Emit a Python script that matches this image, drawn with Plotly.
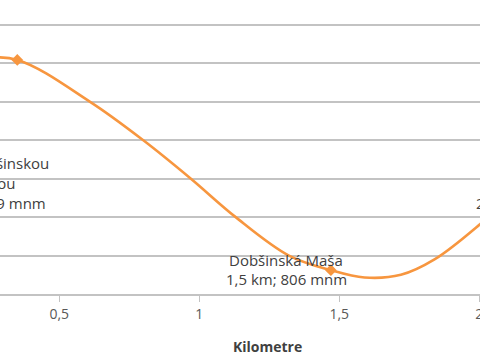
import plotly.graph_objects as go

# Elevation profile (km, metres above sea level)
line_km = [0.20, 0.35, 0.61, 0.80, 0.97, 1.13, 1.32, 1.47, 1.59, 1.72, 1.84, 2.00, 2.15]
line_elev = [861.3, 860.9, 850, 840, 830, 820, 810, 806.2, 804.3, 805, 809, 818, 828]

# Labelled landmarks
marker_km = [0.35, 1.47]
marker_elev = [860.9, 806.2]

x_ticks = [0.5, 1.0, 1.5, 2.0]
x_tick_text = ["0,5", "1", "1,5", "2"]
y_grid = [810, 820, 830, 840, 850, 860, 870]

ORANGE = "#F7963F"
GRID = "#c3c3c3"
TXT = "#404040"
FONT = "Open Sans"
FS = 15

W, H = 480, 360
PLOT_BOTTOM = 294  # px

def px_x(p):
    return p / W

def px_y(p):
    return (PLOT_BOTTOM - p) / PLOT_BOTTOM

fig = go.Figure()
fig.add_trace(go.Scatter(
    x=line_km, y=line_elev, mode="lines",
    line=dict(color=ORANGE, width=2.6, shape="spline", smoothing=1.0),
    hoverinfo="skip", showlegend=False,
))
fig.add_trace(go.Scatter(
    x=marker_km, y=marker_elev, mode="markers",
    marker=dict(symbol="diamond", size=9, color=ORANGE),
    hoverinfo="skip", showlegend=False,
))

annotations = []
# left label (cut off by the left edge)
left_lines = [("Sedlo pod Dobšinskou", 51, 163), ("a Stratenou", 17, 183), ("0,35 km; 859 mnm", 48, 203)]
for t, rx, cy in left_lines:
    annotations.append(dict(text=t, x=px_x(rx), y=px_y(cy), xref="paper", yref="paper",
                            xanchor="right", yanchor="middle", showarrow=False,
                            font=dict(family=FONT, size=FS, color=TXT)))
# Dobšinská Maša label
for t, cy in [("Dobšinská Maša", 260), ("1,5 km; 806 mnm", 279)]:
    annotations.append(dict(text=t, x=px_x(286), y=px_y(cy),
                            xref="paper", yref="paper", xanchor="center", yanchor="middle",
                            showarrow=False, font=dict(family=FONT, size=FS, color=TXT)))
# right label (cut off by the right edge)
annotations.append(dict(text="2,45 km; 846 mnm", x=px_x(474), y=px_y(203), xref="paper", yref="paper",
                        xanchor="left", yanchor="middle", showarrow=False,
                        font=dict(family=FONT, size=FS, color=TXT)))
# axis title
annotations.append(dict(text="<b>Kilometre</b>", x=px_x(267), y=px_y(346), xref="paper", yref="paper",
                        xanchor="center", yanchor="middle", showarrow=False,
                        font=dict(family=FONT, size=14, color=TXT)))

fig.update_layout(
    width=W, height=H,
    margin=dict(l=0, r=0, t=0, b=H - PLOT_BOTTOM, pad=0, autoexpand=False),
    paper_bgcolor="white", plot_bgcolor="white",
    separators=", ",
    annotations=annotations,
    xaxis=dict(range=[0.2882, 2.0025], tickvals=x_ticks, ticktext=x_tick_text,
               showgrid=False, zeroline=False, showline=True, linecolor=GRID, linewidth=1.5,
               ticks="outside", ticklen=6, tickcolor=GRID, tickwidth=1.2, automargin=False,
               ticklabeloverflow="allow",
               tickfont=dict(family=FONT, size=14, color="#595959")),
    yaxis=dict(range=[800, 876.5], tickvals=y_grid, showticklabels=False, automargin=False,
               showgrid=True, gridcolor=GRID, gridwidth=1.5, zeroline=False, showline=False),
)

fig.write_html("out.html", config={"displayModeBar": False},
               post_script="document.body.style.margin='0';")
